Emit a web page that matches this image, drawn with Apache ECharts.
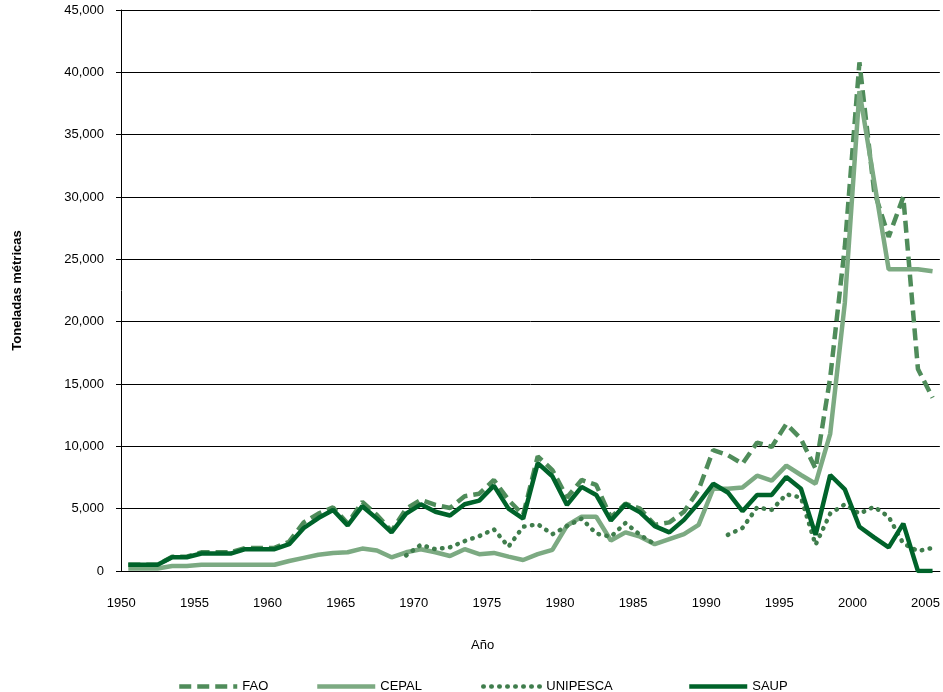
<!DOCTYPE html>
<html>
<head>
<meta charset="utf-8">
<script src="https://cdn.jsdelivr.net/npm/echarts@6/dist/echarts.min.js"></script>
<style>
  html, body { margin: 0; padding: 0; background: #fff; }
  #chart { width: 943px; height: 692px; }
</style>
</head>
<body>
<div id="chart"></div>
<script>
// años 1950-2005
const years = []
for (let y = 1950; y <= 2005; y++) years.push(String(y))

const fao = [500, 500, 500, 1150, 1150, 1500, 1500, 1500, 1850, 1850,
  1850, 2350, 3900, 4600, 5100, 3800, 5550, 4500, 3200, 5000,
  5700, 5300, 5050, 6000, 6200, 7300, 5700, 4500, 9200, 8100,
  5900, 7300, 6900, 4300, 5400, 5000, 3700, 3900, 4750, 6500,
  9700, 9300, 8600, 10300, 9950, 11800, 10600, 8200, 15500, 26000,
  40800, 30500, 26800, 30000, 16200, 13900]

const cepal = [200, 200, 200, 400, 400, 500, 500, 500, 500, 500,
  500, 800, 1050, 1300, 1450, 1500, 1800, 1650, 1100, 1500,
  1750, 1500, 1200, 1750, 1350, 1450, 1150, 880, 1350, 1700,
  3650, 4350, 4350, 2450, 3100, 2750, 2150, 2550, 2950, 3700,
  6600, 6600, 6700, 7650, 7250, 8450, 7700, 7000, 11000, 21500,
  38500, 31300, 24200, 24200, 24200, 24050]

const unipesca = [null, null, null, null, null, null, null, null, null, null,
  null, null, null, null, null, null, null, null, null, 1250,
  2100, 1750, 1900, 2400, 2800, 3350, 1950, 3550, 3750, 2950,
  3600, 4200, 3000, 2750, 3850, 2900, 2150, null, null, null,
  null, 2900, 3450, 5100, 4900, 6150, 5900, 2100, 4600, 5350,
  4600, 5150, 4350, 2200, 1600, 1850]

const saup = [500, 500, 500, 1100, 1100, 1400, 1400, 1400, 1750, 1750,
  1750, 2150, 3450, 4250, 4900, 3650, 5200, 4200, 3100, 4600,
  5350, 4750, 4450, 5350, 5650, 6850, 5000, 4200, 8650, 7600,
  5300, 6750, 6100, 4050, 5350, 4700, 3600, 3100, 4100, 5450,
  7000, 6300, 4800, 6100, 6100, 7550, 6600, 2900, 7700, 6550,
  3550, 2700, 1900, 3800, 0, 0]

const font = "'Liberation Sans', Arial, sans-serif"

const chart = echarts.init(document.getElementById('chart'))

const legendItem = (name, left) => ({
  data: [name],
  left: left,
  top: 675,
  itemWidth: 58,
  itemHeight: 14,
  itemGap: 0,
  itemStyle: { opacity: 0 },
  lineStyle: { width: 4.5 },
  textStyle: { fontFamily: font, fontSize: 13, color: '#000' }
})

chart.setOption({
  animation: false,
  title: {
    text: 'Año',
    left: 471,
    top: 639,
    padding: 0,
    textStyle: { fontFamily: font, fontSize: 13, fontWeight: 'normal', color: '#000' }
  },
  legend: [
    legendItem('FAO', 172),
    legendItem('CEPAL', 310),
    legendItem('UNIPESCA', 476),
    legendItem('SAUP', 682)
  ],
  grid: { left: 121, right: 2, top: 10, bottom: 121 },
  xAxis: {
    type: 'category',
    data: years,
    boundaryGap: true,
    axisLine: { lineStyle: { color: '#000', width: 1 } },
    axisTick: { interval: 4, length: 6, lineStyle: { color: '#000' } },
    axisLabel: {
      interval: 4,
      margin: 26,
      padding: [0, 14, 0, 0],
      fontFamily: font,
      fontSize: 13,
      color: '#000'
    },
    splitLine: { show: false }
  },
  yAxis: {
    type: 'value',
    min: 0,
    max: 45000,
    interval: 5000,
    name: 'Toneladas métricas',
    nameLocation: 'middle',
    nameGap: 97,
    nameTextStyle: { fontFamily: font, fontSize: 13, fontWeight: 'bold', color: '#000' },
    axisLine: { show: true, lineStyle: { color: '#000', width: 1 } },
    axisTick: { show: true, length: 5, lineStyle: { color: '#000' } },
    axisLabel: { margin: 17, fontFamily: font, fontSize: 13, color: '#000' },
    splitLine: { lineStyle: { color: '#000', width: 1 } }
  },
  series: [
    {
      name: 'FAO',
      type: 'line',
      data: fao,
      symbol: 'none',
      itemStyle: { color: '#4f8c5a' },
      lineStyle: { color: '#4f8c5a', width: 4.5, type: [12, 6] }
    },
    {
      name: 'CEPAL',
      type: 'line',
      data: cepal,
      symbol: 'none',
      itemStyle: { color: '#7caa82' },
      lineStyle: { color: '#7caa82', width: 4.5 }
    },
    {
      name: 'UNIPESCA',
      type: 'line',
      data: unipesca,
      symbol: 'none',
      connectNulls: false,
      itemStyle: { color: '#3f7d4c' },
      lineStyle: { color: '#3f7d4c', width: 4.5, type: [0.5, 7.5], cap: 'round' }
    },
    {
      name: 'SAUP',
      type: 'line',
      data: saup,
      symbol: 'none',
      itemStyle: { color: '#00632a' },
      lineStyle: { color: '#00632a', width: 4.5 }
    }
  ]
})
</script>
</body>
</html>
